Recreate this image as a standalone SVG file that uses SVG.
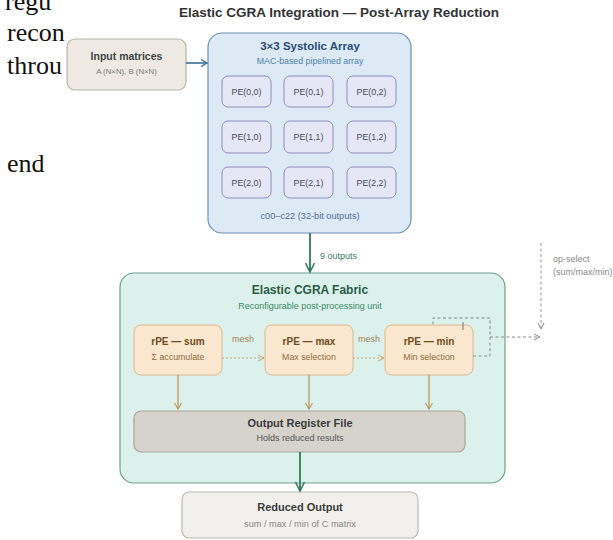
<svg xmlns="http://www.w3.org/2000/svg" width="613" height="540" viewBox="0 0 613 540">
  <style>
    .page { font-family: "Liberation Serif", "Times New Roman", serif; font-size: 26px; fill: #111; }
    .ttl { font-family: "Liberation Sans", Arial, sans-serif; font-weight: bold; text-anchor: middle; }
    .sub { font-family: "Liberation Sans", Arial, sans-serif; text-anchor: middle; }
    .pe rect { fill: #e6e7f6; stroke: #8e8cbc; stroke-width: 1; }
    .pe text { font-family: "Liberation Sans", Arial, sans-serif; font-size: 8.8px; fill: #4a4a5a; text-anchor: middle; }
    .rpe rect { fill: #fbe7cf; stroke: #d8b98c; stroke-width: 1; }
    .lbl { font-family: "Liberation Sans", Arial, sans-serif; font-size: 9px; }
  </style>
  <defs>
    <marker id="ah-blue" markerWidth="8" markerHeight="8" refX="7" refY="4" orient="auto" markerUnits="userSpaceOnUse">
      <path d="M1,0.5 L7,4 L1,7.5" fill="none" stroke="#3a6e9c" stroke-width="1.4"/>
    </marker>
    <marker id="ah-green" markerWidth="12" markerHeight="10" refX="10" refY="5" orient="auto" markerUnits="userSpaceOnUse">
      <path d="M1,0.5 L10,5 L1,9.5" fill="none" stroke="#2e7d5b" stroke-width="1.6"/>
    </marker>
    <marker id="ah-tan" markerWidth="8" markerHeight="8" refX="7" refY="4" orient="auto" markerUnits="userSpaceOnUse">
      <path d="M1,0.5 L7,4 L1,7.5" fill="none" stroke="#b99a5c" stroke-width="1.2"/>
    </marker>
    <marker id="ah-mesh" markerWidth="8" markerHeight="8" refX="7" refY="4" orient="auto" markerUnits="userSpaceOnUse">
      <path d="M1,1 L7,4 L1,7" fill="none" stroke="#c9a472" stroke-width="1"/>
    </marker>
    <marker id="ah-grey" markerWidth="8" markerHeight="8" refX="7" refY="4" orient="auto" markerUnits="userSpaceOnUse">
      <path d="M1,1 L7,4 L1,7" fill="none" stroke="#888" stroke-width="1"/>
    </marker>
  </defs>

  <rect width="613" height="540" fill="#ffffff"/>

  <!-- surrounding page text -->
  <g id="page-text">
    <text class="page" x="5" y="10">regu</text>
    <text class="page" x="7" y="41">recon</text>
    <text class="page" x="7" y="74">throu</text>
    <text class="page" x="7" y="172">end</text>
  </g>

  <text class="ttl" x="339" y="17" font-size="13.5" fill="#333">Elastic CGRA Integration — Post-Array Reduction</text>

  <!-- containers -->
  <g id="systolic-array">
    <rect x="208" y="33" width="203" height="200" rx="14" fill="#dde9f5" stroke="#6f91b2" stroke-width="1.2"/>
    <text class="ttl" x="310" y="50" font-size="11.5" fill="#2b4d6f">3×3 Systolic Array</text>
    <text class="sub" x="310" y="64" font-size="8.8" fill="#4f7fa9">MAC-based pipelined array</text>
    <text class="sub" x="310" y="219" font-size="9.2" fill="#4f6f8f">c00–c22 (32-bit outputs)</text>
  </g>

  <g id="pe00" class="pe"><rect x="222" y="76" width="49" height="31" rx="6"/><text x="246.5" y="94.5">PE(0,0)</text></g>
  <g id="pe01" class="pe"><rect x="284" y="76" width="49" height="31" rx="6"/><text x="308.5" y="94.5">PE(0,1)</text></g>
  <g id="pe02" class="pe"><rect x="347" y="76" width="49" height="31" rx="6"/><text x="371.5" y="94.5">PE(0,2)</text></g>
  <g id="pe10" class="pe"><rect x="222" y="121" width="49" height="32" rx="6"/><text x="246.5" y="140">PE(1,0)</text></g>
  <g id="pe11" class="pe"><rect x="284" y="121" width="49" height="32" rx="6"/><text x="308.5" y="140">PE(1,1)</text></g>
  <g id="pe12" class="pe"><rect x="347" y="121" width="49" height="32" rx="6"/><text x="371.5" y="140">PE(1,2)</text></g>
  <g id="pe20" class="pe"><rect x="222" y="167" width="49" height="31" rx="6"/><text x="246.5" y="185.5">PE(2,0)</text></g>
  <g id="pe21" class="pe"><rect x="284" y="167" width="49" height="31" rx="6"/><text x="308.5" y="185.5">PE(2,1)</text></g>
  <g id="pe22" class="pe"><rect x="347" y="167" width="49" height="31" rx="6"/><text x="371.5" y="185.5">PE(2,2)</text></g>

  <g id="input-matrices">
    <rect x="67" y="39" width="119" height="51" rx="8" fill="#eeeae3" stroke="#bab3a9" stroke-width="1.2"/>
    <text class="ttl" x="126.5" y="60" font-size="10.5" fill="#444">Input matrices</text>
    <text class="sub" x="126.5" y="74" font-size="7.8" fill="#777">A (N×N), B (N×N)</text>
  </g>

  <g id="cgra-fabric">
    <rect x="120" y="273" width="385" height="210" rx="14" fill="#dcf1eb" stroke="#709f8b" stroke-width="1.2"/>
    <text class="ttl" x="310" y="294" font-size="12" fill="#2b5a46">Elastic CGRA Fabric</text>
    <text class="sub" x="310" y="309" font-size="9" fill="#3e8a66">Reconfigurable post-processing unit</text>
  </g>

  <g id="rpe-sum" class="rpe">
    <rect x="134" y="325" width="88" height="50" rx="7"/>
    <text class="ttl" x="178" y="345" font-size="10" fill="#6e4b22">rPE — sum</text>
    <text class="sub" x="178" y="360" font-size="8.8" fill="#8c6c42">Σ accumulate</text>
  </g>
  <g id="rpe-max" class="rpe">
    <rect x="265" y="325" width="88" height="50" rx="7"/>
    <text class="ttl" x="309" y="345" font-size="10" fill="#6e4b22">rPE — max</text>
    <text class="sub" x="309" y="360" font-size="8.8" fill="#8c6c42">Max selection</text>
  </g>
  <g id="rpe-min" class="rpe">
    <rect x="385" y="325" width="88" height="50" rx="7"/>
    <text class="ttl" x="429" y="345" font-size="10" fill="#6e4b22">rPE — min</text>
    <text class="sub" x="429" y="360" font-size="8.8" fill="#8c6c42">Min selection</text>
  </g>

  <g id="output-register-file">
    <rect x="134" y="411" width="331" height="41" rx="7" fill="#d6d3cc" stroke="#a9a59d" stroke-width="1.2"/>
    <text class="ttl" x="300" y="427" font-size="11" fill="#3a3a3a">Output Register File</text>
    <text class="sub" x="300" y="441" font-size="9" fill="#555">Holds reduced results</text>
  </g>

  <g id="reduced-output">
    <rect x="182" y="492" width="236" height="46" rx="7" fill="#f2f0ec" stroke="#bdb8b0" stroke-width="1.2"/>
    <text class="ttl" x="300" y="511" font-size="11" fill="#3a3a3a">Reduced Output</text>
    <text class="sub" x="300" y="527" font-size="9.2" fill="#888">sum / max / min of C matrix</text>
  </g>

  <!-- connectors -->
  <g id="connectors" fill="none">
    <line x1="186" y1="63" x2="207" y2="63" stroke="#3a6e9c" stroke-width="1.6" marker-end="url(#ah-blue)"/>
    <line x1="310" y1="233" x2="310" y2="272" stroke="#2e7d5b" stroke-width="1.8" marker-end="url(#ah-green)"/>
    <text class="lbl" x="320" y="259" fill="#3f7a5f" stroke="none">9 outputs</text>

    <line x1="222" y1="358" x2="264" y2="358" stroke="#c9a472" stroke-width="1.1" stroke-dasharray="2,2" marker-end="url(#ah-mesh)"/>
    <text class="lbl" x="243" y="342" font-size="7.8" fill="#a3855c" stroke="none" text-anchor="middle">mesh</text>
    <line x1="353" y1="358" x2="384" y2="358" stroke="#c9a472" stroke-width="1.1" stroke-dasharray="2,2" marker-end="url(#ah-mesh)"/>
    <text class="lbl" x="369" y="342" font-size="7.8" fill="#a3855c" stroke="none" text-anchor="middle">mesh</text>

    <!-- min-unit feedback loop -->
    <path d="M473,356 H490 V318 H433 V324" stroke="#888" stroke-width="1" stroke-dasharray="3,2.5"/>
    <line x1="463" y1="322" x2="463" y2="330" stroke="#888" stroke-width="1.2"/>
    <line x1="490" y1="337" x2="540" y2="337" stroke="#888" stroke-width="1" stroke-dasharray="3,2.5" marker-end="url(#ah-grey)"/>

    <!-- op-select control -->
    <line x1="541" y1="243" x2="541" y2="329" stroke="#999" stroke-width="1" stroke-dasharray="3,2.5" marker-end="url(#ah-grey)"/>
    <text class="lbl" x="553" y="262" fill="#888" stroke="none">op-select</text>
    <text class="lbl" x="553" y="275" font-size="9.3" fill="#888" stroke="none">(sum/max/min)</text>

    <line x1="178" y1="375" x2="178" y2="409" stroke="#b99a5c" stroke-width="1.3" marker-end="url(#ah-tan)"/>
    <line x1="309" y1="375" x2="309" y2="409" stroke="#b99a5c" stroke-width="1.3" marker-end="url(#ah-tan)"/>
    <line x1="429" y1="375" x2="429" y2="409" stroke="#b99a5c" stroke-width="1.3" marker-end="url(#ah-tan)"/>

    <line x1="300" y1="452" x2="300" y2="491" stroke="#2e7d5b" stroke-width="1.8" marker-end="url(#ah-green)"/>
  </g>
</svg>
